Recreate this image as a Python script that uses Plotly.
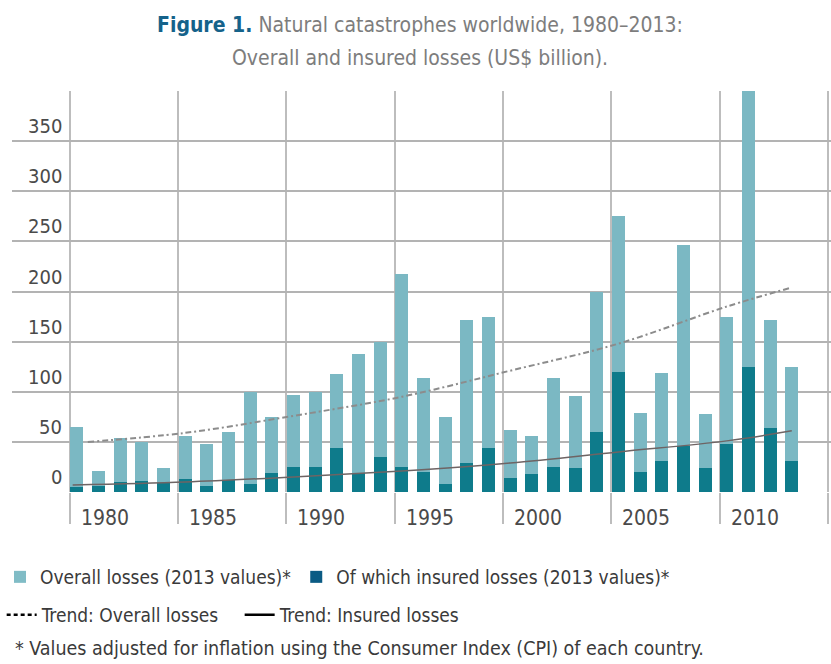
import plotly.graph_objects as go

years = list(range(1980, 2014))
overall_losses = [65, 21, 54, 50, 24, 56, 48, 60, 100, 75,
                  97, 100, 118, 138, 150, 217, 114, 75, 172, 175,
                  62, 56, 114, 96, 200, 275, 79, 119, 246, 78,
                  175, 400, 172, 125]
insured_losses = [5, 6, 10, 11, 9, 13, 6, 12, 8, 19,
                  25, 25, 44, 19, 35, 25, 20, 8, 29, 44,
                  14, 18, 25, 24, 60, 120, 20, 31, 46, 24,
                  48, 125, 64, 31]

trend_overall_years = [1980.5, 1985, 1990, 1995, 2000, 2005, 2010, 2013]
trend_overall_vals = [50, 59, 76, 95, 121, 148, 185, 204]
trend_insured_years = [1979.8, 1985, 1990, 1995, 2000, 2005, 2010, 2013]
trend_insured_vals = [7, 10, 15, 21, 29, 40, 51, 61]

y_tick_vals = [0, 50, 100, 150, 200, 250, 300, 350]
x_label_years = [1980, 1985, 1990, 1995, 2000, 2005, 2010]
x_grid_years = [1980, 1985, 1990, 1995, 2000, 2005, 2010, 2015]

FONT = "DejaVu Sans Condensed, Liberation Sans Narrow, sans-serif"
LIGHT = "#7bb8c3"
DARK = "#0e7b8b"
LEG_LIGHT = "#80bcc6"
LEG_DARK = "#0b5b84"
TXT = "#4a4a4a"

fig = go.Figure()
fig.add_trace(go.Bar(x=years, y=overall_losses, width=0.6, marker_color=LIGHT,
                     marker_line_width=0, showlegend=False, name="Overall losses"))
fig.add_trace(go.Bar(x=years, y=insured_losses, width=0.6, marker_color=DARK,
                     marker_line_width=0, showlegend=False, name="Insured losses"))
fig.add_trace(go.Scatter(x=trend_overall_years, y=trend_overall_vals, mode="lines",
                         line=dict(color="#8c8c8c", width=2, dash="6px,3px,2px,3px", shape="spline"),
                         showlegend=False, name="Trend overall"))
fig.add_trace(go.Scatter(x=trend_insured_years, y=trend_insured_vals, mode="lines",
                         line=dict(color="#6e6464", width=1.5, shape="spline"),
                         showlegend=False, name="Trend insured"))
# legend entries
fig.add_trace(go.Bar(x=[None], y=[None], marker_color=LEG_LIGHT, marker_line_width=0,
                     name="Overall losses (2013 values)*", legend="legend"))
fig.add_trace(go.Bar(x=[None], y=[None], marker_color=LEG_DARK, marker_line_width=0,
                     name="Of which insured losses (2013 values)*", legend="legend"))
fig.add_trace(go.Scatter(x=[None], y=[None], mode="lines", name="Trend: Overall losses",
                         line=dict(color="black", width=2.5, dash="4px,3px"), legend="legend2"))
fig.add_trace(go.Scatter(x=[None], y=[None], mode="lines", name="Trend: Insured losses",
                         line=dict(color="black", width=2.5), legend="legend2"))

annotations = []
for v in y_tick_vals:
    annotations.append(dict(x=1979.67, y=v, xref="x", yref="y", text=str(v),
                            showarrow=False, xanchor="right", yanchor="middle",
                            xshift=-6, yshift=15,
                            font=dict(family=FONT, size=20, color=TXT)))
for yr in x_label_years:
    annotations.append(dict(x=yr - 0.33, y=0, xref="x", yref="y", text=str(yr),
                            showarrow=False, xanchor="center", yanchor="middle",
                            xshift=35, yshift=-26,
                            font=dict(family=FONT, size=21, color=TXT)))
annotations.append(dict(x=0.498, y=1, xref="paper", yref="paper", yanchor="middle",
                        yshift=66,
                        text="<b><span style='color:#15628a'>Figure 1.</span></b> Natural catastrophes worldwide, 1980\u20132013:",
                        showarrow=False, font=dict(family=FONT, size=21, color="#7d7d7d")))
annotations.append(dict(x=0.498, y=1, xref="paper", yref="paper", yanchor="middle",
                        yshift=33,
                        text="Overall and insured losses (US$ billion).",
                        showarrow=False, font=dict(family=FONT, size=21, color="#7d7d7d")))
annotations.append(dict(x=1.0 / 831, y=0, xref="paper", yref="paper", xanchor="left", yanchor="middle",
                        yshift=-156,
                        text="* Values adjusted for inflation using the Consumer Index (CPI) of each country.",
                        showarrow=False, font=dict(family=FONT, size=19.5, color="#3a3a3a")))

fig.update_layout(
    width=831, height=664,
    margin=dict(l=12, r=0, t=91, b=172),
    paper_bgcolor="white", plot_bgcolor="white",
    barmode="overlay",
    bargap=0,
    font=dict(family=FONT, size=19, color="#3a3a3a"),
    xaxis=dict(range=[1977.0, 2014.81], tickmode="array",
               tickvals=[y - 0.33 for y in x_grid_years], showticklabels=False,
               showgrid=True, gridcolor="#bdbdbd", gridwidth=1.5,
               ticks="outside", ticklen=31, tickcolor="#bdbdbd", tickwidth=1.5,
               zeroline=False, showline=False, automargin=False),
    yaxis=dict(range=[0, 400], tickmode="array", tickvals=y_tick_vals + [400],
               showticklabels=False, showgrid=True, gridcolor="#b3b3b3", gridwidth=2,
               zeroline=False, showline=False, ticks="", automargin=False),
    legend=dict(orientation="h", x=-0.005, y=1 - 577 / 664, xanchor="left", yanchor="middle",
                xref="container", yref="container", traceorder="normal",
                font=dict(family=FONT, size=19, color="#3a3a3a"), bgcolor="rgba(0,0,0,0)"),
    legend2=dict(orientation="h", x=0.002, y=1 - 615 / 664, xanchor="left", yanchor="middle",
                 xref="container", yref="container", entrywidth=193, traceorder="normal",
                 font=dict(family=FONT, size=19, color="#3a3a3a"), bgcolor="rgba(0,0,0,0)"),
    annotations=annotations,
)

fig.write_html("out.html", config={"displayModeBar": False},
               post_script="document.body.style.margin='0px';")
